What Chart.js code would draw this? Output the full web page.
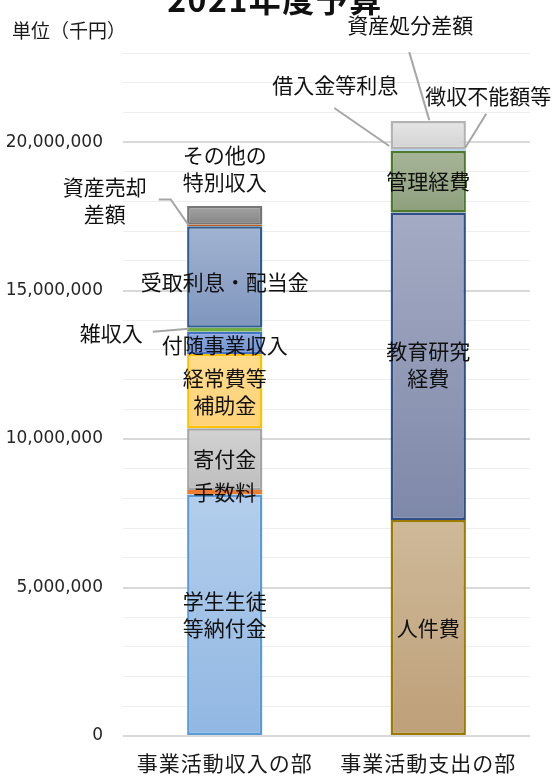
<!DOCTYPE html>
<html lang="ja">
<head>
<meta charset="utf-8">
<title>2021年度予算</title>
<script src="https://cdn.jsdelivr.net/npm/chart.js@4.4.1/dist/chart.umd.min.js"></script>
<style>
  html, body { margin: 0; padding: 0; background: #fff; }
</style>
</head>
<body>
<canvas id="budget" width="557" height="779"></canvas>
<script>
//-----------------------------------------------------------------------------
// Data (単位: 千円)
const categories = ['事業活動収入の部', '事業活動支出の部'];

const incomeNames = ['学生生徒等納付金', '手数料', '寄付金', '経常費等補助金', '付随事業収入',
  '雑収入', '受取利息・配当金', '資産売却差額', 'その他の特別収入'];
const incomeValues = [8130000, 150000, 2080000, 2500000, 750000, 140000, 3420000, 50000, 630000];

const expenseNames = ['人件費', '教育研究経費', '管理経費', '徴収不能額等', '借入金等利息', '資産処分差額'];
const expenseValues = [7270000, 10360000, 2070000, 10000, 50000, 950000];

const yLabelTicks = [0, 5000000, 10000000, 15000000, 20000000];
const yMax = 23000000;
const yStep = 1000000;

//-----------------------------------------------------------------------------
// Styles: [gradient top, gradient bottom, border]
const incomeColors = [
  ['#b3ceec', '#91b7e2', '#5b9bd5'],
  ['#ee8444', '#ee8444', '#ed7d31'],
  ['#d2d2d2', '#bebebe', '#a5a5a5'],
  ['#ffdc8c', '#ffd277', '#ffc000'],
  ['#8eaadf', '#6f92d6', '#4472c4'],
  ['#8cc068', '#8cc068', '#70ad47'],
  ['#a1b3d1', '#7f96bd', '#2e5d8e'],
  ['#c55a11', '#c55a11', '#c55a11'],
  ['#a3a3a3', '#858585', '#767676']
];
const expenseColors = [
  ['#cfb999', '#bea079', '#9c7a00'],
  ['#a4abc4', '#7e88a8', '#2e4f8a'],
  ['#a6b597', '#8e9f7e', '#4f7a2c'],
  ['#c9c9c9', '#c9c9c9', '#c9c9c9'],
  ['#86b6e4', '#86b6e4', '#86b6e4'],
  ['#e6e6e6', '#d2d2d2', '#b3b3b3']
];

const fontJP = "'Noto Sans CJK JP', 'Noto Sans', sans-serif";

// label offsets relative to the middle of each segment
const labelLayout = {
  '学生生徒等納付金': { lines: ['学生生徒', '等納付金'] },
  '手数料': {},
  '寄付金': {},
  '経常費等補助金': { lines: ['経常費等', '補助金'] },
  '付随事業収入': { dy: 2 },
  '雑収入': { dx: -82, dy: 3, align: 'right', leader: [[-72, 2], [-36, -1]] },
  '受取利息・配当金': { dy: 5 },
  '資産売却差額': { lines: ['資産売却', '差額'], dx: -120, dy: -25,
    leader: [[-66, -26], [-54, -26], [-36, 0]] },
  'その他の特別収入': { lines: ['その他の', '特別収入'], dy: -47 },
  '人件費': {},
  '教育研究経費': { lines: ['教育研究', '経費'], dy: -2 },
  '管理経費': { dy: -1 },
  '徴収不能額等': { dx: 60, dy: -55, leader: [[58, -37], [37, -3]] },
  '借入金等利息': { dx: -93, dy: -65, leader: [[-94, -42], [-39, -4]] },
  '資産処分差額': { dx: -18, dy: -110, leader: [[-19, -83], [1, -15]] }
};

//-----------------------------------------------------------------------------
function gradientFill(cols, values, k) {
  const start = values.slice(0, k).reduce((a, b) => a + b, 0);
  const end = start + values[k];
  return function(c) {
    const y = c.chart.scales.y;
    if (!y || !c.chart.chartArea) return cols[1];
    const g = c.chart.ctx.createLinearGradient(0, y.getPixelForValue(end), 0, y.getPixelForValue(start));
    g.addColorStop(0, cols[0]);
    g.addColorStop(1, cols[1]);
    return g;
  };
}

function makeSet(name, data, cols, values, k) {
  return {
    label: name,
    data: data,
    stack: 'all',
    backgroundColor: gradientFill(cols, values, k),
    borderColor: cols[2],
    borderWidth: 2.5,
    borderSkipped: false,
    barPercentage: 0.37,
    categoryPercentage: 1
  };
}

const datasets = [];
incomeNames.forEach(function(n, k) {
  datasets.push(makeSet(n, [incomeValues[k], null], incomeColors[k], incomeValues, k));
});
expenseNames.forEach(function(n, k) {
  datasets.push(makeSet(n, [null, expenseValues[k]], expenseColors[k], expenseValues, k));
});

//-----------------------------------------------------------------------------
// Labels, leader lines, title
const labelPlugin = {
  id: 'budgetLabels',
  afterDatasetsDraw(chart) {
    const ctx = chart.ctx;
    ctx.save();
    chart.data.datasets.forEach(function(ds, i) {
      const lay = labelLayout[ds.label];
      if (!lay) return;
      const el = chart.getDatasetMeta(i).data[ds.data[0] == null ? 1 : 0];
      const cx = el.x, cy = (el.y + el.base) / 2;
      if (lay.leader) {
        ctx.beginPath();
        lay.leader.forEach(function(p, n) {
          if (n) ctx.lineTo(cx + p[0], cy + p[1]);
          else ctx.moveTo(cx + p[0], cy + p[1]);
        });
        ctx.strokeStyle = '#a6a6a6';
        ctx.lineWidth = 2;
        ctx.stroke();
      }
      const lines = lay.lines || [ds.label];
      const lh = 27;
      const y0 = cy + (lay.dy || 0) - (lines.length - 1) * lh / 2;
      ctx.font = '21px ' + fontJP;
      ctx.fillStyle = '#111';
      ctx.textAlign = lay.align || 'center';
      ctx.textBaseline = 'middle';
      lines.forEach(function(t, n) {
        ctx.fillText(t, cx + (lay.dx || 0), y0 + n * lh);
      });
    });

    // category labels
    const xs = chart.scales.x;
    ctx.font = '21px ' + fontJP;
    ctx.fillStyle = '#1a1a1a';
    ctx.textAlign = 'center';
    ctx.textBaseline = 'middle';
    ctx.letterSpacing = '1px';
    categories.forEach(function(c, i) {
      ctx.fillText(c, xs.getPixelForValue(i), 763);
    });

    // title (cut at top) and unit
    ctx.letterSpacing = '1.5px';
    ctx.font = 'bold 32px ' + fontJP;
    ctx.textBaseline = 'alphabetic';
    ctx.fillStyle = '#111';
    ctx.fillText('2021年度予算', 275, 12);
    ctx.letterSpacing = '0px';
    ctx.font = '19px ' + fontJP;
    ctx.textAlign = 'left';
    ctx.textBaseline = 'middle';
    ctx.fillStyle = '#1a1a1a';
    ctx.fillText('単位（千円）', 12, 31);
    ctx.restore();
  }
};

new Chart(document.getElementById('budget'), {
  type: 'bar',
  data: { labels: categories, datasets: datasets },
  options: {
    responsive: false,
    animation: false,
    events: [],
    layout: { padding: { top: 53, right: 27, left: 0, bottom: 0 } },
    plugins: { legend: { display: false }, tooltip: { enabled: false } },
    scales: {
      x: {
        stacked: true,
        afterFit(scale) { scale.height = 43; },
        ticks: { display: false },
        grid: { display: false },
        border: { display: false }
      },
      y: {
        stacked: true,
        min: 0,
        max: yMax,
        afterFit(scale) { scale.width = 123; },
        ticks: {
          stepSize: yStep,
          autoSkip: false,
          padding: 20,
          color: '#262626',
          font: { family: 'DejaVu Sans', size: 17 },
          callback: v => yLabelTicks.includes(v) ? v.toLocaleString('en-US') : ''
        },
        grid: {
          drawTicks: false,
          color: c => yLabelTicks.includes(c.tick.value) ? '#d9d9d9' : '#eeeeee',
          lineWidth: c => yLabelTicks.includes(c.tick.value) ? 2 : 1
        },
        border: { display: false }
      }
    }
  },
  plugins: [labelPlugin]
});
</script>
</body>
</html>
